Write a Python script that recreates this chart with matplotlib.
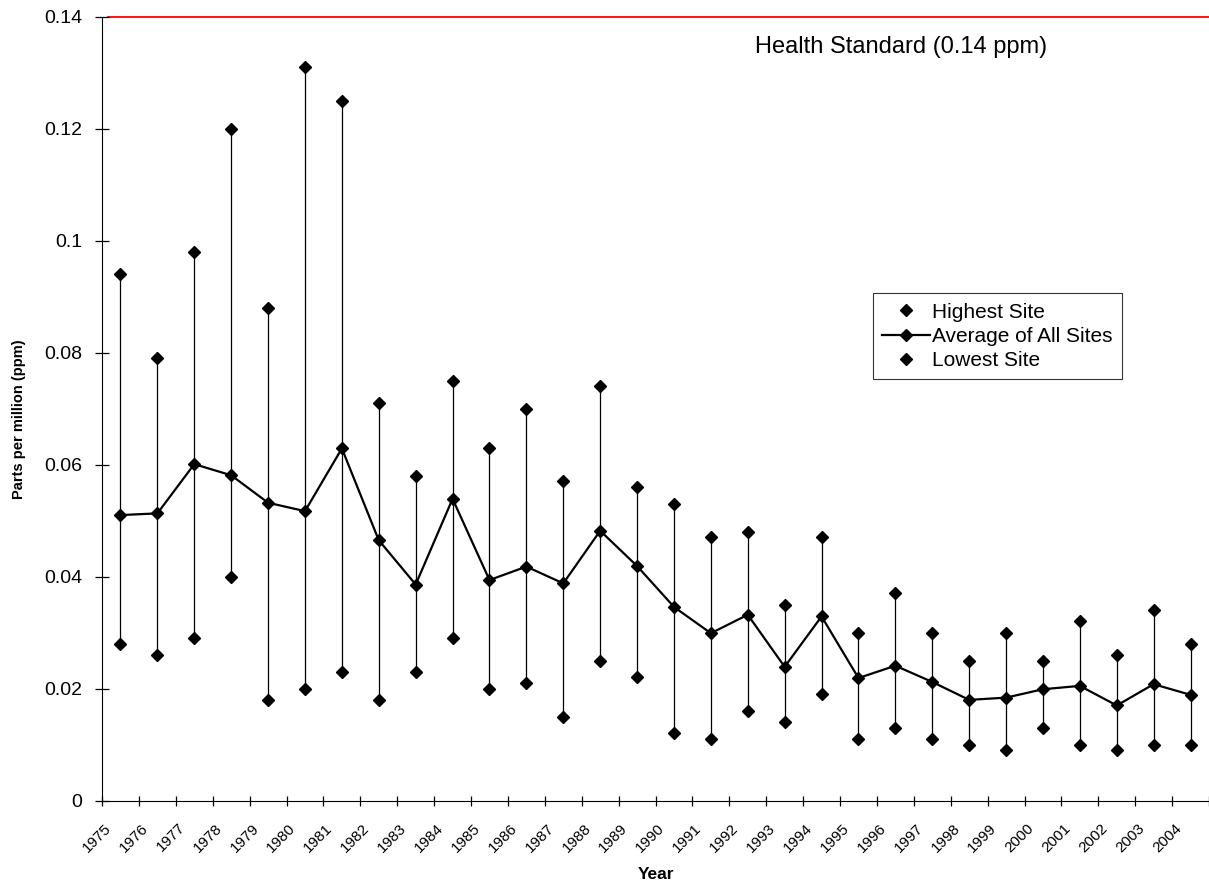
import numpy as np
import matplotlib
matplotlib.use("Agg")
from matplotlib import pyplot as plt
from matplotlib.lines import Line2D
from matplotlib.transforms import ScaledTranslation

plt.rcParams['font.family'] = ['Liberation Sans', 'DejaVu Sans']

years = list(range(1975, 2005))
highest = [0.094, 0.079, 0.098, 0.120, 0.088, 0.131, 0.125, 0.071, 0.058, 0.075,
           0.063, 0.070, 0.057, 0.074, 0.056, 0.053, 0.047, 0.048, 0.035, 0.047,
           0.030, 0.037, 0.030, 0.025, 0.030, 0.025, 0.032, 0.026, 0.034, 0.028]
average = [0.0510, 0.0513, 0.0601, 0.0581, 0.0532, 0.0517, 0.0629, 0.0465, 0.0386, 0.0539,
           0.0394, 0.0418, 0.0388, 0.0482, 0.0419, 0.0346, 0.0299, 0.0332, 0.0239, 0.0329,
           0.0219, 0.0241, 0.0212, 0.0180, 0.0184, 0.0199, 0.0205, 0.0170, 0.0208, 0.0189]
lowest = [0.028, 0.026, 0.029, 0.040, 0.018, 0.020, 0.023, 0.018, 0.023, 0.029,
          0.020, 0.021, 0.015, 0.025, 0.022, 0.012, 0.011, 0.016, 0.014, 0.019,
          0.011, 0.013, 0.011, 0.010, 0.009, 0.013, 0.010, 0.009, 0.010, 0.010]
health_standard = 0.14
ytick_vals = [0, 0.02, 0.04, 0.06, 0.08, 0.1, 0.12, 0.14]
ytick_labels = ['0', '0.02', '0.04', '0.06', '0.08', '0.1', '0.12', '0.14']

fig = plt.figure(figsize=(12.09, 8.86), dpi=100)
ax = fig.add_axes([0.0844, 0.0963, 0.9156, 0.8849])

x = np.arange(len(years)) + 0.5

# high-low bars
ax.vlines(x, lowest, highest, color='black', lw=0.9, zorder=2)
ax.plot(x, highest, 'D', color='black', ms=6.5, zorder=3)
ax.plot(x, lowest, 'D', color='black', ms=6.5, zorder=3)
ax.plot(x, average, '-D', color='black', lw=1.6, ms=6.5, zorder=4)

ax.axhline(health_standard, xmin=0.005, xmax=1, color='red', lw=1.3, zorder=1,
           clip_on=False)
ax.text(17.7, 0.1346, 'Health Standard (0.14 ppm)', fontsize=17,
        ha='left', va='center')

ax.set_xlim(0, len(years))
ax.set_ylim(0, 0.14)
ax.spines['top'].set_visible(False)
ax.spines['right'].set_visible(False)

ax.set_yticks(ytick_vals)
ax.set_yticklabels(ytick_labels, fontsize=14)
ax.tick_params(axis='y', direction='inout', length=10, width=0.9, pad=9)

ax.set_xticks(range(len(years) + 1))
ax.set_xticklabels([str(y) for y in years] + [''], fontsize=11,
                   rotation=45, ha='right', va='top', rotation_mode='anchor')
ax.tick_params(axis='x', direction='inout', length=7, width=0.9, pad=11)
shift = ScaledTranslation(2 / 100, 0, fig.dpi_scale_trans)
for lab in ax.get_xticklabels():
    lab.set_transform(lab.get_transform() + shift)

ax.set_xlabel('Year', fontsize=12.5, fontweight='bold', labelpad=9)
ax.set_ylabel('Parts per million (ppm)', fontsize=10.5, fontweight='bold')
ax.yaxis.set_label_coords(-0.0687, 0.486)

handles = [
    Line2D([], [], ls='none', marker='D', color='black', ms=6.5),
    Line2D([], [], ls='-', lw=1.6, marker='D', color='black', ms=6.5),
    Line2D([], [], ls='none', marker='D', color='black', ms=6.5),
]
leg = fig.legend(handles, ['Highest Site', 'Average of All Sites', 'Lowest Site'],
                 loc='upper left', bbox_to_anchor=(0.722, 0.669), borderaxespad=0,
                 fontsize=15, fancybox=False, handlelength=2.3, handletextpad=0.1,
                 labelspacing=0.25, borderpad=0.45)
leg.get_frame().set_edgecolor('black')
leg.get_frame().set_linewidth(0.8)

plt.savefig('out.png', dpi=100)
